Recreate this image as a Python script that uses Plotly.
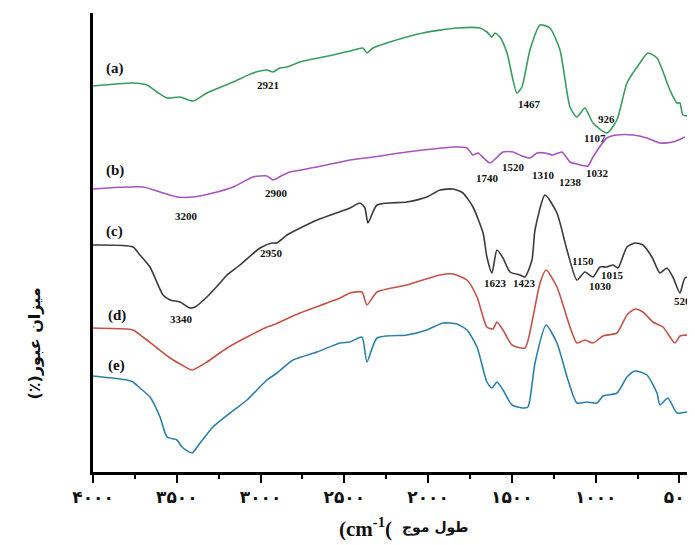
import plotly.graph_objects as go

# ---- data (wavenumber cm-1, relative transmittance) ----
wn_a = [4000, 3761, 3678, 3618, 3558, 3481, 3403, 3320, 3164, 3045, 2962, 2926, 2884, 2842, 2765, 2568, 2466, 2389, 2365, 2329, 2228, 2031, 1828, 1690, 1649, 1619, 1601, 1571, 1529, 1470, 1440, 1392, 1332, 1273, 1213, 1153, 1112, 1064, 1016, 933, 873, 813, 736, 688, 634, 557, 515, 497, 479, 419]
t_a = [386, 389, 387, 380, 374, 375, 371, 379, 390, 399, 402, 400, 404, 405, 410, 417, 421, 424, 419, 424, 430, 439, 444, 444, 440, 435, 439, 435, 419, 379, 385, 422, 447, 444, 422, 365, 355, 364, 349, 339, 352, 389, 409, 419, 414, 382, 369, 369, 357, 356]

wn_b = [4000, 3702, 3600, 3499, 3403, 3284, 3164, 3045, 2962, 2926, 2866, 2824, 2663, 2466, 2329, 2126, 1828, 1768, 1732, 1702, 1631, 1553, 1493, 1440, 1392, 1350, 1302, 1255, 1201, 1153, 1112, 1046, 1016, 933, 873, 777, 694, 616, 539, 467]
t_b = [283, 285, 280, 275, 275, 279, 285, 295, 296, 292, 297, 300, 305, 312, 315, 320, 325, 324, 317, 319, 309, 320, 320, 316, 314, 319, 319, 317, 320, 310, 308, 306, 315, 334, 337, 337, 334, 329, 330, 335]

wn_c = [4000, 3761, 3720, 3660, 3582, 3540, 3481, 3421, 3391, 3320, 3242, 3200, 3123, 3003, 2932, 2902, 2842, 2663, 2466, 2407, 2377, 2359, 2305, 2126, 2007, 1929, 1852, 1792, 1732, 1672, 1649, 1619, 1589, 1553, 1511, 1452, 1422, 1380, 1362, 1302, 1231, 1171, 1112, 1064, 1016, 974, 933, 897, 867, 813, 765, 718, 664, 616, 575, 539, 497, 467, 419]
t_c = [227, 225, 217, 205, 177, 172, 170, 164, 165, 175, 189, 197, 207, 224, 229, 229, 237, 252, 264, 269, 264, 249, 267, 270, 275, 282, 283, 279, 265, 239, 215, 199, 222, 214, 200, 197, 195, 212, 242, 277, 259, 222, 192, 200, 195, 205, 205, 207, 204, 225, 229, 227, 215, 199, 204, 195, 179, 194, 195]

wn_d = [4000, 3797, 3761, 3702, 3618, 3540, 3469, 3409, 3320, 3200, 3081, 2962, 2926, 2765, 2526, 2466, 2395, 2365, 2305, 2126, 1929, 1852, 1768, 1708, 1649, 1613, 1589, 1553, 1499, 1422, 1374, 1332, 1296, 1231, 1153, 1112, 1064, 1016, 956, 873, 813, 765, 718, 658, 598, 527, 497, 455, 407]
t_d = [144, 143, 142, 135, 124, 114, 107, 102, 110, 124, 135, 145, 147, 159, 174, 179, 180, 167, 180, 187, 197, 198, 192, 175, 145, 143, 150, 142, 127, 124, 155, 189, 202, 185, 145, 129, 132, 129, 136, 139, 157, 163, 160, 150, 145, 129, 136, 137, 138]

wn_e = [4000, 3797, 3761, 3720, 3660, 3600, 3558, 3499, 3469, 3409, 3361, 3284, 3182, 3081, 2962, 2902, 2806, 2663, 2526, 2466, 2395, 2365, 2305, 2126, 2007, 1911, 1828, 1768, 1708, 1649, 1619, 1589, 1553, 1499, 1434, 1404, 1362, 1296, 1231, 1165, 1112, 1052, 992, 956, 873, 813, 765, 694, 634, 616, 569, 515, 455, 407]
t_e = [96, 92, 90, 84, 75, 55, 35, 32, 25, 19, 29, 45, 59, 72, 92, 99, 112, 120, 129, 130, 135, 110, 134, 137, 142, 149, 148, 142, 125, 90, 84, 90, 82, 67, 64, 65, 109, 147, 129, 92, 69, 70, 69, 76, 79, 95, 101, 97, 79, 67, 74, 59, 60, 59]

series_names = ["(a)", "(b)", "(c)", "(d)", "(e)"]
series_colors = ["#3a9b63", "#a655bd", "#3b3b3b", "#c4524a", "#2b80a6"]
name_wn = [3869, 3869, 3869, 3857, 3857]
name_t = [404, 302, 241, 157, 107]

peak_text = ["2921", "1467", "926", "1107", "3200", "2900", "1740", "1520", "1310", "1238", "1032",
             "2950", "3340", "1623", "1423", "1150", "1030", "1015", "520"]
peak_wn = [2956, 1392, 933, 1004, 3439, 2902, 1643, 1493, 1314, 1153, 986,
           2932, 3469, 1595, 1422, 1076, 974, 900, 479]
peak_t = [387, 368, 353, 334, 256, 279, 294, 305, 297, 290, 299,
          219, 153, 189, 189, 211, 186, 197, 171]

tick_vals = [4000, 3500, 3000, 2500, 2000, 1500, 1000, 500]
tick_text = ["۴۰۰۰", "۳۵۰۰", "۳۰۰۰", "۲۵۰۰", "۲۰۰۰", "۱۵۰۰", "۱۰۰۰", "۵۰۰"]

RLE, PDF = "\u202b", "\u202c"

fig = go.Figure()
for wn, t, c in zip([wn_a, wn_b, wn_c, wn_d, wn_e], [t_a, t_b, t_c, t_d, t_e], series_colors):
    fig.add_trace(go.Scatter(x=wn, y=t, mode="lines",
                             line=dict(color=c, width=1.6, shape="spline", smoothing=0.6),
                             showlegend=False, hoverinfo="skip"))

serif = "Liberation Serif"
for n, x, y in zip(series_names, name_wn, name_t):
    fig.add_annotation(x=x, y=y, text="<b>%s</b>" % n, showarrow=False,
                       font=dict(family=serif, size=15, color="#111"))
for s, x, y in zip(peak_text, peak_wn, peak_t):
    fig.add_annotation(x=x, y=y, text="<b>%s</b>" % s, showarrow=False,
                       font=dict(family=serif, size=11, color="#111"))

# axis titles
fig.add_annotation(xref="paper", yref="paper", x=0.0, y=0.0, xshift=-71, yshift=70,
                   text=RLE + "میزان عبور(٪)" + PDF, textangle=-90, showarrow=False,
                   font=dict(family="DejaVu Sans", size=16, color="#111", weight="bold"))
fig.add_annotation(xref="paper", yref="paper", x=0.0, y=0.0, xshift=244, yshift=-55,
                   xanchor="left", yanchor="middle",
                   text="<b>(cm<sup>-1</sup>(</b>", showarrow=False,
                   font=dict(family=serif, size=21, color="#111"))
fig.add_annotation(xref="paper", yref="paper", x=0.0, y=0.0, xshift=307, yshift=-55,
                   xanchor="left", yanchor="middle",
                   text="طول موج", showarrow=False,
                   font=dict(family="DejaVu Sans", size=14, color="#111", weight="bold"))

# the page body adds an 8px margin, so the figure is offset by 8px inside the window
fig.update_layout(
    width=687, height=537,
    margin=dict(l=85, r=0, t=5, b=73, autoexpand=False),
    paper_bgcolor="white", plot_bgcolor="white",
    xaxis=dict(range=[4000, 407], showgrid=False, zeroline=False, automargin=False,
               showline=True, linecolor="black", linewidth=2.5,
               ticks="outside", ticklen=8, tickwidth=2, tickcolor="black",
               tickvals=tick_vals, ticktext=tick_text,
               tickfont=dict(family="DejaVu Sans", size=17, color="#111", weight="bold"),
               minor=dict(dtick=250, tick0=0, ticks="outside", ticklen=4, tickwidth=2,
                          tickcolor="black", showgrid=False)),
    yaxis=dict(range=[0, 459], showgrid=False, zeroline=False, automargin=False,
               showline=True, linecolor="black", linewidth=2.5,
               showticklabels=False, ticks=""),
)

fig.write_html("out.html")
